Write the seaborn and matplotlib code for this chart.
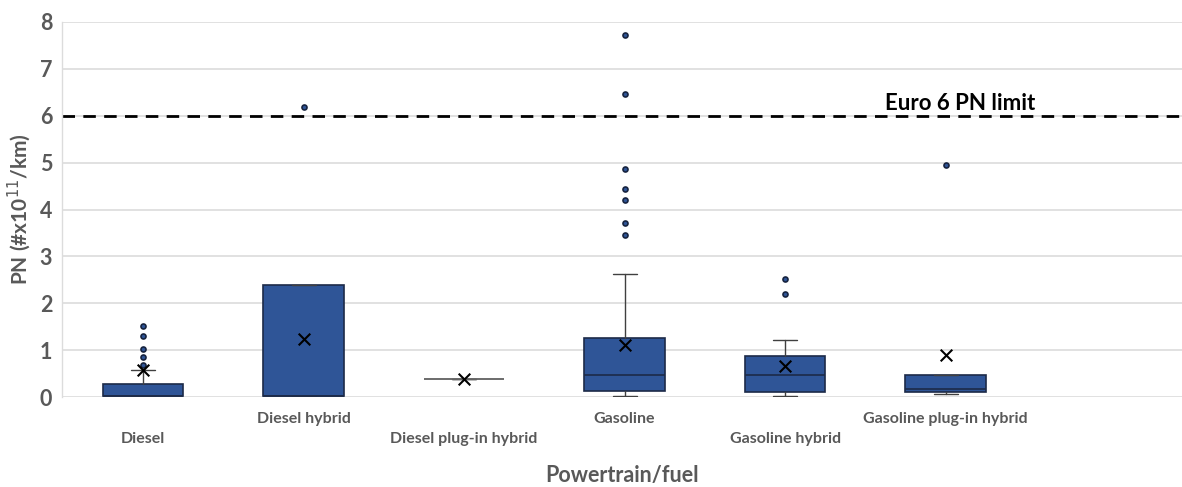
import matplotlib
matplotlib.use("Agg")
import matplotlib.pyplot as plt
import pandas as pd
import seaborn as sns

# Particle number emissions by powertrain/fuel (box statistics, x10^11 #/km)
categories = ["Diesel", "Diesel hybrid", "Diesel plug-in hybrid",
              "Gasoline", "Gasoline hybrid", "Gasoline plug-in hybrid"]
q1 = [0.02, 0.02, 0.38, 0.13, 0.11, 0.10]
median = [0.03, 0.03, 0.38, 0.46, 0.46, 0.18]
q3 = [0.28, 2.39, 0.38, 1.25, 0.87, 0.47]
whisker_low = [0.02, 0.02, 0.38, 0.02, 0.02, 0.06]
whisker_high = [0.57, 2.39, 0.38, 2.62, 1.21, 0.47]
means = [0.58, 1.23, 0.38, 1.12, 0.66, 0.89]
outliers = [
    [0.68, 0.85, 1.02, 1.31, 1.51],
    [6.19],
    [],
    [3.45, 3.72, 4.21, 4.44, 4.86, 6.46, 7.72],
    [2.19, 2.52],
    [4.96],
]
euro6_limit = 6.0
y_ticks = [0, 1, 2, 3, 4, 5, 6, 7, 8]

BOX_BLUE = "#2F5597"
BOX_EDGE = "#1C2A48"
GREY_TEXT = "#595959"

sns.set_theme(style="white")
plt.rcParams["font.family"] = ["Lato", "DejaVu Sans"]

fig = plt.figure(figsize=(11.82, 4.87), dpi=100)
ax = fig.add_axes([62 / 1182, (487 - 397) / 487, 1 - 62 / 1182, (397 - 22) / 487])

stats = []
for i, name in enumerate(categories):
    stats.append(dict(label=name, q1=q1[i], med=median[i], q3=q3[i],
                      whislo=whisker_low[i], whishi=whisker_high[i],
                      mean=means[i], fliers=[]))

positions = list(range(len(categories)))
parts = ax.bxp(stats, positions=positions, widths=0.5, capwidths=0.15,
               patch_artist=True, showmeans=False, showfliers=False,
               boxprops=dict(facecolor=BOX_BLUE, edgecolor=BOX_EDGE, linewidth=1.2),
               medianprops=dict(color=BOX_EDGE, linewidth=1.2),
               whiskerprops=dict(color="#404040", linewidth=1.0),
               capprops=dict(color="#404040", linewidth=1.0),
               zorder=3)
# single-value group is drawn as a flat grey line
parts["boxes"][2].set_edgecolor("#6b6b6b")
parts["medians"][2].set_color("#6b6b6b")

# outliers
out_df = pd.DataFrame([(i, v) for i, vals in enumerate(outliers) for v in vals],
                      columns=["pos", "value"])
sns.scatterplot(data=out_df, x="pos", y="value", ax=ax, s=13, marker="o",
                color=BOX_BLUE, edgecolor="#16233f", linewidth=1.2, zorder=4,
                legend=False)

# means
mean_df = pd.DataFrame({"pos": positions, "value": means})
sns.scatterplot(data=mean_df, x="pos", y="value", ax=ax, s=70, marker="x",
                color="black", linewidth=1.5, zorder=5, legend=False)

# Euro 6 limit
ax.axhline(euro6_limit, color="black", linestyle=(0, (4.5, 3)), linewidth=2.0, zorder=2)
ax.text(4.62, euro6_limit + 0.13, "Euro 6 PN limit", fontsize=16, fontweight="bold",
        color="black", ha="left", va="baseline")

ax.set_xlim(-0.505, 6.473)
ax.set_ylim(0, 8)
ax.set_yticks(y_ticks)
ax.set_yticklabels([str(t) for t in y_ticks], fontsize=15.5, fontweight="bold",
                   color=GREY_TEXT)
ax.yaxis.grid(True, color="#dcdcdc", linewidth=1.2, zorder=0)
ax.set_axisbelow(True)

ax.set_xticks(positions)
ax.set_xticklabels(categories, fontsize=11.5, fontweight="bold", color=GREY_TEXT)
for i, tick in enumerate(ax.xaxis.get_major_ticks()):
    tick.set_pad(25 if i % 2 == 0 else 11)
ax.tick_params(axis="x", length=0)
ax.tick_params(axis="y", length=0, pad=7)

ax.set_xlabel("Powertrain/fuel", fontsize=15.5, fontweight="bold", color=GREY_TEXT,
              labelpad=14)
ax.set_ylabel("PN (#x10$^{11}$/km)", fontsize=15, fontweight="bold", color=GREY_TEXT,
              labelpad=5)

for side in ["top", "right", "bottom"]:
    ax.spines[side].set_visible(False)
ax.spines["left"].set_color("#dcdcdc")
ax.spines["left"].set_linewidth(1.0)

fig.savefig("out.png", dpi=100, facecolor="white")
